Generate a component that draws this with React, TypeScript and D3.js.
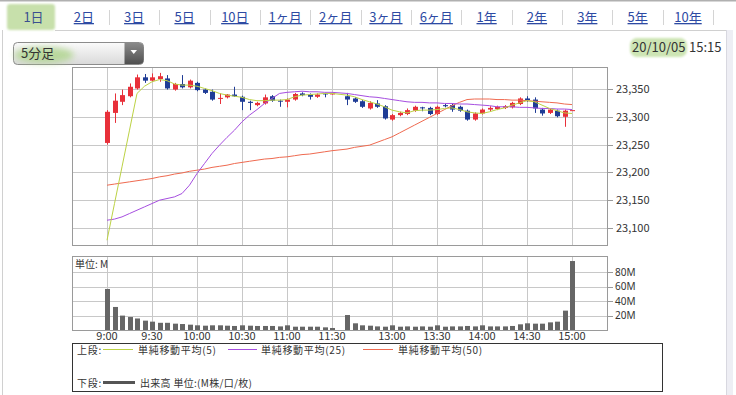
import React from 'react';
import * as d3 from 'd3';

const tabs = ['1日', '2日', '3日', '5日', '10日', '1ヶ月', '2ヶ月', '3ヶ月', '6ヶ月', '1年', '2年', '3年', '5年', '10年'];

const times = [
  '9:00', '9:05', '9:10', '9:15', '9:20', '9:25', '9:30', '9:35', '9:40', '9:45', '9:50', '9:55',
  '10:00', '10:05', '10:10', '10:15', '10:20', '10:25', '10:30', '10:35', '10:40', '10:45', '10:50', '10:55',
  '11:00', '11:05', '11:10', '11:15', '11:20', '11:25', '11:30',
  '12:30', '12:35', '12:40', '12:45', '12:50', '12:55',
  '13:00', '13:05', '13:10', '13:15', '13:20', '13:25', '13:30', '13:35', '13:40', '13:45', '13:50', '13:55',
  '14:00', '14:05', '14:10', '14:15', '14:20', '14:25', '14:30', '14:35', '14:40', '14:45', '14:50', '14:55',
  '15:00',
];

const opens = [
  23253, 23307, 23327, 23337, 23351, 23371, 23365, 23368, 23369, 23349, 23359, 23353, 23361, 23349, 23345, 23333,
  23335, 23340, 23336, 23327, 23321, 23324, 23337, 23329, 23327, 23331, 23342, 23340, 23336, 23342, 23341,
  23337, 23333, 23328, 23315, 23324, 23319, 23295, 23303, 23305, 23311, 23317, 23316, 23305, 23321, 23321, 23318,
  23311, 23295, 23306, 23313, 23314, 23316, 23317, 23323, 23333, 23331, 23313, 23307, 23311, 23300, 23312,
];
const highs = [
  23312, 23342, 23349, 23360, 23376, 23377, 23378, 23379, 23375, 23361, 23375, 23367, 23363, 23351, 23349, 23342,
  23341, 23354, 23338, 23329, 23327, 23340, 23339, 23331, 23333, 23343, 23344, 23342, 23342, 23343, 23342,
  23343, 23335, 23330, 23328, 23330, 23321, 23305, 23309, 23315, 23320, 23318, 23318, 23320, 23323, 23323, 23320,
  23313, 23308, 23315, 23319, 23320, 23321, 23327, 23335, 23337, 23335, 23316, 23315, 23313, 23313, 23312,
];
const lows = [
  23250, 23289, 23321, 23335, 23349, 23361, 23363, 23363, 23349, 23347, 23351, 23351, 23346, 23341, 23329, 23323,
  23333, 23336, 23312, 23312, 23319, 23322, 23327, 23318, 23317, 23329, 23337, 23331, 23334, 23335, 23340,
  23321, 23325, 23316, 23313, 23316, 23295, 23293, 23301, 23303, 23309, 23310, 23303, 23303, 23317, 23309, 23309,
  23293, 23293, 23304, 23310, 23312, 23314, 23315, 23321, 23327, 23307, 23302, 23305, 23299, 23282, 23312,
];
const closes = [
  23309, 23329, 23339, 23354, 23371, 23365, 23371, 23373, 23351, 23359, 23353, 23365, 23348, 23343, 23331, 23334,
  23340, 23337, 23327, 23325, 23325, 23335, 23329, 23328, 23331, 23341, 23339, 23336, 23340, 23341, 23342,
  23331, 23327, 23318, 23325, 23318, 23297, 23303, 23307, 23312, 23318, 23316, 23305, 23318, 23319, 23313, 23311,
  23295, 23306, 23313, 23316, 23318, 23319, 23325, 23333, 23330, 23315, 23306, 23313, 23301, 23311, 23312,
];
// volume in millions
const volumes = [
  57, 32, 20, 18, 16, 13, 11.6, 10, 10, 8.8, 8.3, 7.4, 6.5, 6, 6.5, 6.5, 6, 5.6, 6.5, 6, 5.6, 5.6, 5.6, 5, 6.5,
  4.6, 4.6, 4.6, 4.6, 3.7, 2.8,
  20.8, 9.3, 6.5, 6, 5, 4.6, 6.5, 4.6, 5, 4.6, 5, 4.6, 6.5, 4.6, 5, 5, 5.6, 5, 6.5, 5, 5, 5, 5.6, 7.9, 9.3, 8.8,
  8.8, 10.6, 11.6, 26.9, 95.8,
];
const sma5 = [
  23078, 23144, 23210, 23276, 23342, 23355, 23363, 23367, 23365, 23359, 23357, 23357, 23355, 23351, 23347, 23342,
  23339, 23337, 23335, 23331, 23329, 23329, 23330, 23330, 23331, 23336, 23339, 23340, 23341, 23342, 23342,
  23339, 23336, 23331, 23327, 23323, 23318, 23312, 23309, 23307, 23311, 23312, 23312, 23313, 23315, 23316, 23313,
  23309, 23307, 23306, 23309, 23313, 23316, 23321, 23325, 23329, 23327, 23321, 23315, 23311, 23307, 23306,
];
const sma25 = [
  23114, 23116, 23120, 23126, 23132, 23138, 23144, 23150, 23153, 23156, 23162, 23177, 23198, 23216, 23234, 23249,
  23263, 23276, 23291, 23303, 23313, 23324, 23333, 23342, 23344, 23345, 23346, 23345, 23345, 23344, 23344,
  23342, 23340, 23338, 23336, 23335, 23333, 23331, 23329, 23327, 23326, 23326, 23325, 23325, 23324, 23324, 23323,
  23323, 23322, 23321, 23320, 23318, 23318, 23318, 23317, 23317, 23316, 23315, 23315, 23314, 23314, 23313,
];
const sma50 = [
  23177, 23179, 23181, 23183, 23185, 23187, 23189, 23192, 23194, 23197, 23199, 23202, 23204, 23206, 23209, 23211,
  23213, 23216, 23218, 23220, 23222, 23224, 23225, 23227, 23228, 23230, 23232, 23233, 23235, 23237, 23239,
  23242, 23245, 23247, 23249, 23254, 23259, 23264, 23271, 23278, 23285, 23292, 23299, 23306, 23313, 23320, 23326,
  23331, 23332, 23332, 23332, 23331, 23331, 23330, 23330, 23329, 23328, 23327, 23326, 23325, 23323, 23322,
];

const priceTicks = [23100, 23150, 23200, 23250, 23300, 23350];
const volumeTicks = [20, 40, 60, 80];
const timeTicks = ['9:00', '9:30', '10:00', '10:30', '11:00', '11:30', '13:00', '13:30', '14:00', '14:30', '15:00'];

const FONT = "'Noto Sans CJK JP', 'Noto Sans', sans-serif";
const UP = '#e8303a';
const DOWN = '#1f3c96';
const C5 = '#bcd244';
const C25 = '#a64ee0';
const C50 = '#ef6a50';

// session minutes: lunch break compressed (11:30 -> 150, 12:30 -> 160)
function sessionMin(t: string): number {
  const [h, m] = t.split(':').map(Number);
  let mins = h * 60 + m - 540;
  if (mins > 150) mins -= 50;
  return mins;
}

const crisp = (v: number) => Math.round(v) + 0.5;

export default function App() {
  const P = { left: 72, right: 607, top: 67, bottom: 245 };
  const V = { left: 72, right: 607, top: 256, bottom: 330 };

  const x = d3.scaleLinear().domain([0, 310]).range([107, 572]);
  const yP = d3.scaleLinear().domain([23100, 23350]).range([228, 89]);
  const yV = d3.scaleLinear().domain([0, 80]).range([330, 272.4]);
  const pos = times.map((t) => x(sessionMin(t)));

  const mkLine = (vals: number[]) =>
    d3.line<number>().x((_, i) => pos[i]).y((d) => yP(d))(vals) || '';

  const tabScale = d3.scalePoint<string>().domain(tabs).range([33.5, 688]);
  const step = tabScale.step();

  const gridX = timeTicks.map((t) => crisp(x(sessionMin(t))));
  const legendText = { fontSize: 10, fill: '#333', letterSpacing: 0.7 } as const;

  return (
    <svg
      width={736}
      height={395}
      style={{ position: 'absolute', left: 0, top: 0, background: '#fff' }}
      fontFamily={FONT}
    >
      <defs>
        <filter id="soft" x="-20%" y="-30%" width="140%" height="160%">
          <feGaussianBlur stdDeviation="1.2" />
        </filter>
        <filter id="smudge" x="-30%" y="-50%" width="160%" height="200%">
          <feGaussianBlur stdDeviation="3" />
        </filter>
        <linearGradient id="ddBg" x1="0" y1="0" x2="0" y2="1">
          <stop offset="0" stopColor="#fbfbfb" />
          <stop offset="1" stopColor="#d9d9d9" />
        </linearGradient>
        <linearGradient id="ddBtn" x1="0" y1="0" x2="0" y2="1">
          <stop offset="0" stopColor="#8a8a8a" />
          <stop offset="1" stopColor="#505050" />
        </linearGradient>
      </defs>

      {/* page frame */}
      <line x1={0} x2={736} y1={0.5} y2={0.5} stroke="#b0b0b0" strokeWidth={2} />
      <line x1={55} x2={727} y1={30.5} y2={30.5} stroke="#d0d0d0" />
      <line x1={2.5} x2={2.5} y1={30} y2={395} stroke="#d0d0d0" />
      <line x1={726.5} x2={726.5} y1={30} y2={395} stroke="#d8d8e0" />
      <rect x={727} y={30} width={6} height={365} fill="#eeeef4" />

      {/* tabs */}
      <rect x={7} y={4} width={48} height={26} rx={3} fill="#c7e0ab" filter="url(#soft)" />
      {tabs.map((t, i) => {
        const cx = tabScale(t) as number;
        return (
          <g key={t}>
            <text
              x={cx}
              y={22}
              textAnchor="middle"
              fontSize={13}
              fill={i === 0 ? '#3a4f8f' : '#2d4aa3'}
              textDecoration={i === 0 ? 'none' : 'underline'}
            >
              {t}
            </text>
            {i > 0 && (
              <line x1={crisp(cx + step / 2)} x2={crisp(cx + step / 2)} y1={10} y2={25} stroke="#d4d4d4" />
            )}
          </g>
        );
      })}

      {/* dropdown */}
      <rect x={13.5} y={42.5} width={130} height={22} rx={4} fill="url(#ddBg)" stroke="#8c8c8c" />
      <path d="M124.5,43 H139.5 a4,4 0 0 1 4,4 V60 a4,4 0 0 1 -4,4 H124.5 Z" fill="url(#ddBtn)" />
      <path d="M130.5,50 L137,50 L133.75,54 Z" fill="#fff" />
      <ellipse cx={44} cy={55} rx={30} ry={8} fill="#a9d383" opacity={0.75} filter="url(#smudge)" />
      <text x={21} y={58} fontSize={13} fill="#333">5分足</text>

      {/* date */}
      <rect x={630} y={38} width={57} height={19} rx={7} fill="#cde5b4" filter="url(#soft)" />
      <text x={632} y={52} fontSize={13} fill="#333">20/10/05</text>
      <text x={689} y={52} fontSize={13} fill="#333">15:15</text>

      {/* price panel grid */}
      {priceTicks.map((p) => (
        <line key={p} x1={P.left} x2={P.right} y1={crisp(yP(p))} y2={crisp(yP(p))} stroke="#c8c8c8" />
      ))}
      {gridX.map((gx, i) => (
        <line key={i} x1={gx} x2={gx} y1={P.top} y2={P.bottom} stroke="#c8c8c8" />
      ))}
      <rect x={P.left + 0.5} y={P.top + 0.5} width={P.right - P.left} height={P.bottom - P.top} fill="none" stroke="#9a9a9a" />
      {priceTicks.map((p) => (
        <g key={p}>
          <line x1={P.right + 0.5} x2={P.right + 6} y1={crisp(yP(p))} y2={crisp(yP(p))} stroke="#9a9a9a" />
          <text x={616} y={yP(p) + 4} fontSize={11} fill="#333">
            {d3.format(',')(p)}
          </text>
        </g>
      ))}

      {/* candles */}
      {times.map((t, i) => {
        const cx = Math.round(pos[i]);
        const up = closes[i] >= opens[i];
        const col = up ? UP : DOWN;
        const top = yP(Math.max(opens[i], closes[i]));
        const bot = yP(Math.min(opens[i], closes[i]));
        return (
          <g key={t}>
            <line x1={cx + 0.5} x2={cx + 0.5} y1={yP(highs[i])} y2={yP(lows[i])} stroke={col} />
            <rect x={cx - 2} y={top} width={5} height={Math.max(1, bot - top)} fill={col} />
          </g>
        );
      })}

      {/* moving averages */}
      <path d={mkLine(sma50)} fill="none" stroke={C50} strokeWidth={1} />
      <path d={mkLine(sma25)} fill="none" stroke={C25} strokeWidth={1} />
      <path d={mkLine(sma5)} fill="none" stroke={C5} strokeWidth={1} />

      {/* volume panel */}
      {volumeTicks.map((v) => (
        <line key={v} x1={V.left} x2={V.right} y1={crisp(yV(v))} y2={crisp(yV(v))} stroke="#c8c8c8" />
      ))}
      {gridX.map((gx, i) => (
        <line key={i} x1={gx} x2={gx} y1={V.top} y2={V.bottom} stroke="#c8c8c8" />
      ))}
      {times.map((t, i) => (
        <rect
          key={t}
          x={Math.round(pos[i]) - 2}
          y={yV(volumes[i])}
          width={5}
          height={yV(0) - yV(volumes[i])}
          fill="#666"
        />
      ))}
      <rect x={V.left + 0.5} y={V.top + 0.5} width={V.right - V.left} height={V.bottom - V.top} fill="none" stroke="#9a9a9a" />
      {volumeTicks.map((v) => (
        <g key={v}>
          <line x1={V.right + 0.5} x2={V.right + 6} y1={crisp(yV(v))} y2={crisp(yV(v))} stroke="#9a9a9a" />
          <text x={615} y={yV(v) + 3.5} fontSize={10} fontFamily="'Noto Sans', sans-serif" fill="#333">
            {v}M
          </text>
        </g>
      ))}
      <text x={75} y={268} fontSize={10} fill="#333">単位: M</text>

      {/* time axis labels */}
      {timeTicks.map((t) => (
        <text key={t} x={x(sessionMin(t))} y={339.5} textAnchor="middle" fontSize={11} fill="#333">
          {t}
        </text>
      ))}

      {/* legend */}
      <rect x={72.5} y={343.5} width={590} height={48} fill="#fff" stroke="#333" />
      <text x={77} y={354} {...legendText}>上段:</text>
      <line x1={103} x2={133} y1={349.5} y2={349.5} stroke={C5} />
      <text x={138} y={354} {...legendText}>単純移動平均(5)</text>
      <line x1={228} x2={257} y1={349.5} y2={349.5} stroke={C25} />
      <text x={261} y={354} {...legendText}>単純移動平均(25)</text>
      <line x1={363} x2={393} y1={349.5} y2={349.5} stroke={C50} />
      <text x={398} y={354} {...legendText}>単純移動平均(50)</text>
      <text x={77} y={387} {...legendText}>下段:</text>
      <line x1={103} x2={135} y1={382.5} y2={382.5} stroke="#555" strokeWidth={3} />
      <text x={140} y={387} {...legendText} letterSpacing={0.3}>出来高 単位:(M株/口/枚)</text>
    </svg>
  );
}
